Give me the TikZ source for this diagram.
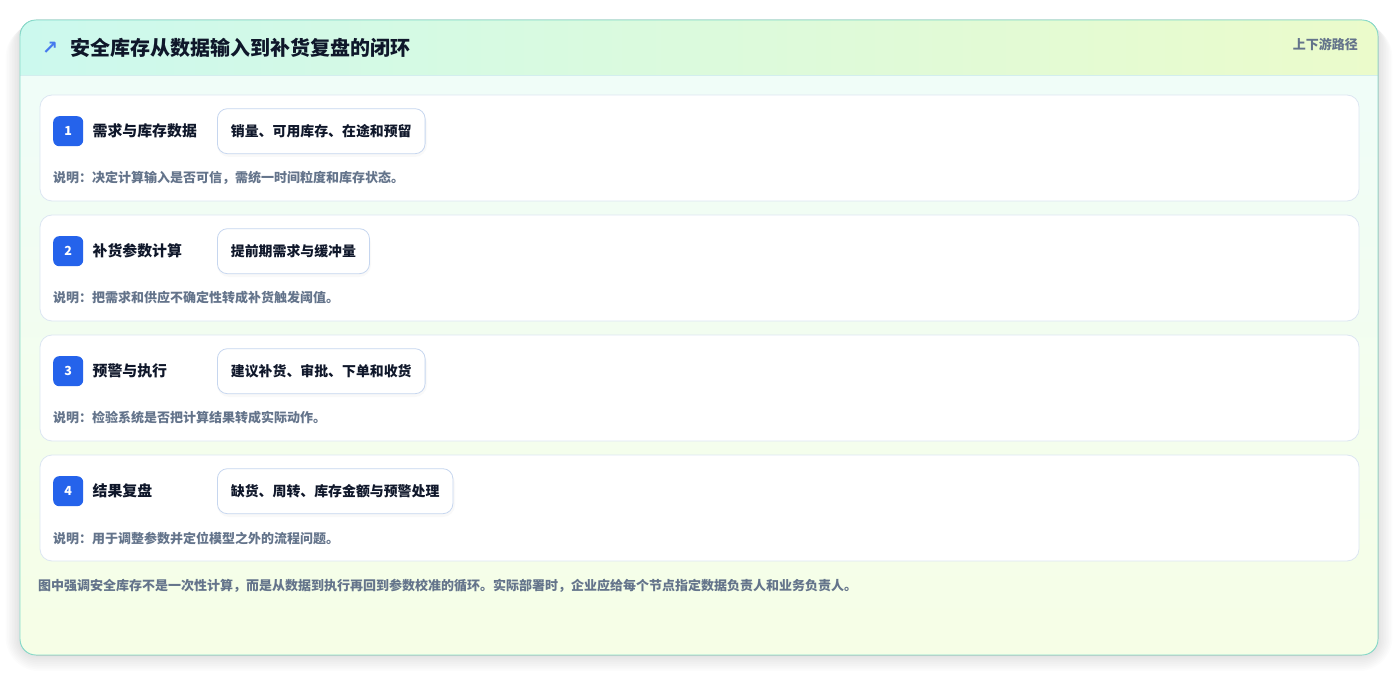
\documentclass[tikz,border=0pt]{standalone}
\usepackage{fontspec}
\setmainfont{Noto Sans CJK SC}
\newfontfamily\symfont{DejaVu Sans}
\usetikzlibrary{positioning}
\definecolor{frameline}{HTML}{86DCCB}
\definecolor{headL}{HTML}{CCF9EE}
\definecolor{headR}{HTML}{EBFBCB}
\definecolor{headsep}{HTML}{D3EEEE}
\definecolor{bodytop}{HTML}{EFFDFA}
\definecolor{bodybot}{HTML}{F6FEE6}
\definecolor{cardline}{HTML}{DCE6F2}
\definecolor{chipline}{HTML}{C6D6EF}
\definecolor{badgeblue}{HTML}{2563EB}
\definecolor{ink}{HTML}{0F172A}
\definecolor{slate}{HTML}{64748B}
\tikzstyle{card} = [rectangle, draw=cardline, fill=white, line width=0.8pt,
rounded corners=12pt, minimum width=1319pt, minimum height=106pt, inner sep=0pt, outer sep=0pt]
\tikzstyle{badge} = [rectangle, fill=badgeblue, rounded corners=6pt, minimum size=30pt,
inner sep=0pt, text=white, font=\bfseries\fontsize{12.5}{12.5}\selectfont]
\tikzstyle{stagename} = [inner sep=0pt, text=ink, font=\bfseries\fontsize{14.9}{15}\selectfont]
\tikzstyle{chip} = [rectangle, draw=chipline, fill=white, line width=0.8pt, rounded corners=10pt,
minimum height=45pt, inner xsep=13.5pt, inner ysep=0pt, outer sep=0pt, text=ink,
font=\bfseries\fontsize{13.9}{14}\selectfont]
\tikzstyle{chipshade} = [draw=none, fill=black, opacity=0.025, rounded corners=12pt]
\tikzstyle{note} = [inner sep=0pt, text=slate, font=\bfseries\fontsize{13}{13}\selectfont]
\begin{document}
\begin{tikzpicture}[x=1pt, y=-1pt, node distance=14pt]
				\useasboundingbox (0,0) rectangle (1399,676);
				\fill[white] (0,0) rectangle (1399,676);
				
				% Soft shadow round the frame
				\foreach \s in {2,4,...,18}
					\fill[black, opacity=0.012, rounded corners=16pt+\s pt]
						(20-\s*0.8,20+\s*0.2) rectangle (1378+\s*0.8,655+\s*0.9);
				
				% Frame and header band
				\fill[top color=bodytop, bottom color=bodybot, rounded corners=16pt] (20,20) rectangle (1378,655);
				\begin{scope}
					\clip[rounded corners=16pt] (20,20) rectangle (1378,655);
					\fill[left color=headL, right color=headR] (20,20) rectangle (1378,75);
				\end{scope}
				\draw[headsep, line width=0.8pt] (20,75) -- (1378,75);
				\draw[frameline, line width=0.9pt, rounded corners=16pt] (20,20) rectangle (1378,655);
				
				\node (icon) [inner sep=0pt, text=badgeblue!85, font=\symfont\bfseries\fontsize{19}{19}\selectfont] at (50,48) {↗};
				\node (title) [anchor=west, inner sep=0pt, text=ink, font=\bfseries\fontsize{20}{20}\selectfont] at (70,48) {安全库存从数据输入到补货复盘的闭环};
				\node (route) [anchor=east, note] at (1358,44) {上下游路径};
				
				% Place cards
				\node (card1) [card, anchor=north west] at (40,95) {};
				\node (card2) [card, below=of card1] {};
				\node (card3) [card, below=of card2] {};
				\node (card4) [card, below=of card3] {};
				
				% Card 1
				\node (badge1) [badge, below right=21pt and 13pt of card1.north west] {1};
				\node (name1) [stagename, right=9pt of badge1] {需求与库存数据};
				\fill[chipshade] (217,111) rectangle (427,157);
				\node (chip1) [chip, right=134pt of badge1] {销量、可用库存、在途和预留};
				\node (note1) [note, anchor=west] at ([shift={(13pt,-83pt)}]card1.north west) {说明：决定计算输入是否可信，需统一时间粒度和库存状态。};
				
				% Card 2
				\node (badge2) [badge, below right=21pt and 13pt of card2.north west] {2};
				\node (name2) [stagename, right=9pt of badge2] {补货参数计算};
				\fill[chipshade] (217,231) rectangle (371,277);
				\node (chip2) [chip, right=134pt of badge2] {提前期需求与缓冲量};
				\node (note2) [note, anchor=west] at ([shift={(13pt,-83pt)}]card2.north west) {说明：把需求和供应不确定性转成补货触发阈值。};
				
				% Card 3
				\node (badge3) [badge, below right=21pt and 13pt of card3.north west] {3};
				\node (name3) [stagename, right=9pt of badge3] {预警与执行};
				\fill[chipshade] (217,351) rectangle (427,397);
				\node (chip3) [chip, right=134pt of badge3] {建议补货、审批、下单和收货};
				\node (note3) [note, anchor=west] at ([shift={(13pt,-83pt)}]card3.north west) {说明：检验系统是否把计算结果转成实际动作。};
				
				% Card 4
				\node (badge4) [badge, below right=21pt and 13pt of card4.north west] {4};
				\node (name4) [stagename, right=9pt of badge4] {结果复盘};
				\fill[chipshade] (217,471) rectangle (455,517);
				\node (chip4) [chip, right=134pt of badge4] {缺货、周转、库存金额与预警处理};
				\node (note4) [note, anchor=west] at ([shift={(13pt,-83pt)}]card4.north west) {说明：用于调整参数并定位模型之外的流程问题。};
				
				% Footer
				\node (footer) [note, anchor=west] at (38,586) {图中强调安全库存不是一次性计算，而是从数据到执行再回到参数校准的循环。实际部署时，企业应给每个节点指定数据负责人和业务负责人。};

			\end{tikzpicture}
\end{document}
